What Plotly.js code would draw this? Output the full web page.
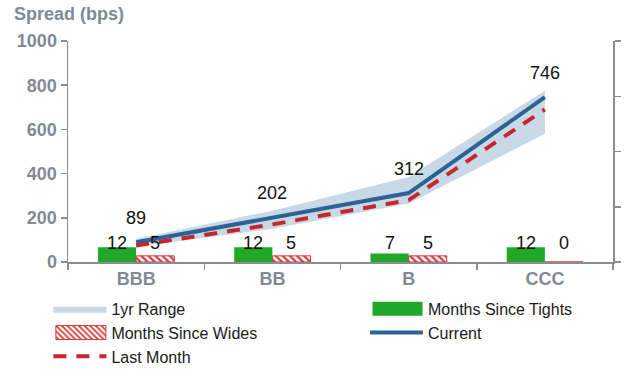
<!DOCTYPE html>
<html>
<head>
<meta charset="utf-8">
<script src="https://cdn.plot.ly/plotly-3.0.1.min.js"></script>
<style>
  html, body { margin: 0; padding: 0; background: #fff; }
  #chart { width: 632px; height: 369px; }
</style>
</head>
<body>
<div id="chart"></div>
<script>
// Credit ratings along the x axis
const ratings = ['BBB', 'BB', 'B', 'CCC'];

// Spreads in basis points
const current = [89, 202, 312, 746];
const lastMonth = [75, 170, 280, 690];
const rangeLow = [70, 150, 265, 580];
const rangeHigh = [105, 232, 385, 775];

// Months elapsed since the tightest / widest level of the year
const monthsSinceTights = [12, 12, 7, 12];
const monthsSinceWides = [5, 5, 5, 0];

const gray = '#7f8a93';
const axisGray = '#8c8c8c';
const textFont = 'Liberation Sans, Arial, sans-serif';

const idx = ratings.map((_, i) => i);

const traces = [
  {
    x: ratings, y: rangeLow, type: 'scatter', mode: 'lines',
    line: { width: 0, color: 'rgba(0,0,0,0)' }, showlegend: false, hoverinfo: 'skip'
  },
  {
    x: ratings, y: rangeHigh, type: 'scatter', mode: 'lines', name: '1yr Range',
    fill: 'tonexty', fillcolor: '#c9d8e5', line: { width: 0, color: '#c9d8e5' },
    legend: 'legend', legendrank: 1
  },
  {
    x: ratings, y: monthsSinceTights, type: 'bar', name: 'Months Since Tights', yaxis: 'y2',
    offset: -0.28, width: 0.28,
    marker: { color: '#21a828', line: { width: 0 } },
    legend: 'legend2', legendrank: 1
  },
  {
    x: ratings, y: monthsSinceWides, type: 'bar', name: 'Months Since Wides', yaxis: 'y2',
    offset: 0, width: 0.28,
    marker: {
      color: '#ffffff',
      line: { color: '#d23a36', width: 1 },
      pattern: { shape: '\\', fgcolor: '#d23a36', bgcolor: '#ffffff', size: 5, solidity: 0.45 }
    },
    legend: 'legend', legendrank: 2
  },
  {
    x: ratings, y: current, type: 'scatter', mode: 'lines', name: 'Current',
    line: { color: '#2b6395', width: 4 },
    legend: 'legend2', legendrank: 2
  },
  {
    x: ratings, y: lastMonth, type: 'scatter', mode: 'lines', name: 'Last Month',
    line: { color: '#c8262e', width: 4, dash: '13px,10px' },
    legend: 'legend', legendrank: 3
  }
];

const labelFont = { family: textFont, size: 18, color: '#111' };
const annotations = [];
idx.forEach(i => {
  annotations.push({
    x: i, y: current[i], xref: 'x', yref: 'y', text: String(current[i]),
    showarrow: false, yshift: 24, yanchor: 'middle', font: labelFont
  });
  annotations.push({
    x: i - 0.14, y: 0, xref: 'x', yref: 'y2', text: String(monthsSinceTights[i]),
    showarrow: false, yshift: 19, yanchor: 'middle', font: labelFont
  });
  annotations.push({
    x: i + 0.14, y: 0, xref: 'x', yref: 'y2', text: String(monthsSinceWides[i]),
    showarrow: false, yshift: 19, yanchor: 'middle', font: labelFont
  });
});

const legendBase = {
  orientation: 'v', xanchor: 'left', yanchor: 'top', y: -0.135,
  itemwidth: 53, traceorder: 'normal', tracegroupgap: 0,
  font: { family: textFont, size: 16, color: '#1a1a1a' },
  bgcolor: 'rgba(0,0,0,0)', borderwidth: 0
};

const layout = {
  width: 632, height: 369,
  margin: { l: 68, r: 19, t: 41, b: 107, pad: 0, autoexpand: false },
  paper_bgcolor: '#ffffff', plot_bgcolor: '#ffffff',
  showlegend: true,
  title: {
    text: '<b>Spread (bps)</b>',
    x: 14 / 632, xanchor: 'left', xref: 'container',
    y: 1 - 14 / 369, yanchor: 'middle', yref: 'container',
    font: { family: textFont, size: 18, color: gray }
  },
  xaxis: {
    type: 'category', range: [-0.5, 3.5],
    showline: true, linecolor: axisGray, linewidth: 1.5,
    ticks: 'outside', tickson: 'boundaries', ticklen: 6, tickcolor: axisGray, tickwidth: 1.5,
    tickfont: { family: textFont, size: 18, color: gray, weight: 'bold' },
    showgrid: false, zeroline: false, fixedrange: true
  },
  yaxis: {
    range: [0, 1000], dtick: 200,
    showline: true, linecolor: axisGray, linewidth: 1.5,
    ticks: 'outside', ticklen: 6, tickcolor: axisGray, tickwidth: 1.5,
    tickfont: { family: textFont, size: 18, color: gray, weight: 'bold' },
    showgrid: false, zeroline: false, fixedrange: true
  },
  yaxis2: {
    overlaying: 'y', side: 'right', range: [0, 180], dtick: 45,
    showline: true, linecolor: axisGray, linewidth: 1.5,
    ticks: 'outside', ticklen: 6, tickcolor: axisGray, tickwidth: 1.5,
    showticklabels: false, showgrid: false, zeroline: false, fixedrange: true
  },
  legend: Object.assign({}, legendBase, { x: -0.036 }),
  legend2: Object.assign({}, legendBase, { x: 0.545 }),
  annotations: annotations
};

function widenBarSwatches(gd) {
  gd.querySelectorAll('g.legendpoints path').forEach(p => {
    const d = p.getAttribute('d') || '';
    if (d.replace(/\s/g, '') === 'M6,6H-6V-6H6Z') {
      p.setAttribute('d', 'M26,7H-24V-7H26Z');
    }
  });
}

Plotly.newPlot('chart', traces, layout, { displayModeBar: false, staticPlot: true }).then(gd => {
  widenBarSwatches(gd);
  gd.on('plotly_afterplot', () => widenBarSwatches(gd));
});
</script>
</body>
</html>
